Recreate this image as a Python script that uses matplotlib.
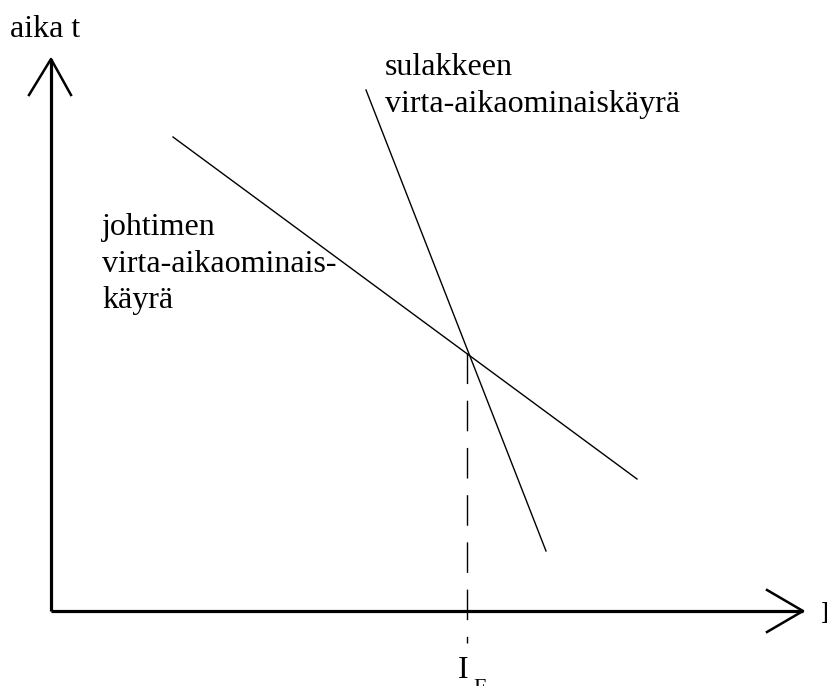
import matplotlib.pyplot as plt

plt.rcParams['font.family'] = ['Liberation Serif', 'DejaVu Serif']

# kuvan koordinaatit (x oikealle, y alas)
akseli_x = [51, 803]
akseli_y = [611, 59]
johdin_I = [173, 637]
johdin_t = [137, 479]
sulake_I = [366, 546]
sulake_t = [90, 551]
I_F = 467
t_F = 353

fig = plt.figure(figsize=(8.28, 6.86), dpi=100)
ax = fig.add_axes([0, 0, 1, 1])
ax.set_xlim(0, 828)
ax.set_ylim(686, 0)
ax.axis('off')

# akselit ja nuolenkärjet
ax.plot([akseli_x[0], akseli_x[1]], [akseli_y[0], akseli_y[0]], color='black', lw=2.3, solid_capstyle='butt')
ax.plot([akseli_x[0], akseli_x[0]], [akseli_y[0], akseli_y[1]], color='black', lw=2.3, solid_capstyle='butt')
ax.plot([akseli_x[1] - 36, akseli_x[1], akseli_x[1] - 36], [akseli_y[0] - 21, akseli_y[0], akseli_y[0] + 21],
        color='black', lw=1.8)
ax.plot([akseli_x[0] - 22, akseli_x[0], akseli_x[0] + 20], [akseli_y[1] + 36, akseli_y[1], akseli_y[1] + 36],
        color='black', lw=1.8)

# käyrät
ax.plot(johdin_I, johdin_t, color='black', lw=1.0)
ax.plot(sulake_I, sulake_t, color='black', lw=1.0)
ax.plot([I_F, I_F], [t_F, 643], color='black', lw=1.0, dashes=(22, 12))

fs = 23
ax.text(10, 37, 'aika t', fontsize=fs, va='baseline')
ax.text(385, 75, 'sulakkeen', fontsize=fs, va='baseline')
ax.text(385, 112, 'virta-aikaominaiskäyrä', fontsize=fs, va='baseline')
ax.text(102, 235, 'johtimen', fontsize=fs, va='baseline')
ax.text(102, 272, 'virta-aikaominais-', fontsize=fs, va='baseline')
ax.text(102, 308, 'käyrä', fontsize=fs, va='baseline')
ax.text(821, 623, 'I', fontsize=fs, va='baseline')
ax.text(458, 678, 'I', fontsize=fs, va='baseline')
ax.text(473, 693, 'F', fontsize=16, va='baseline')

fig.savefig('out.png', dpi=100)
